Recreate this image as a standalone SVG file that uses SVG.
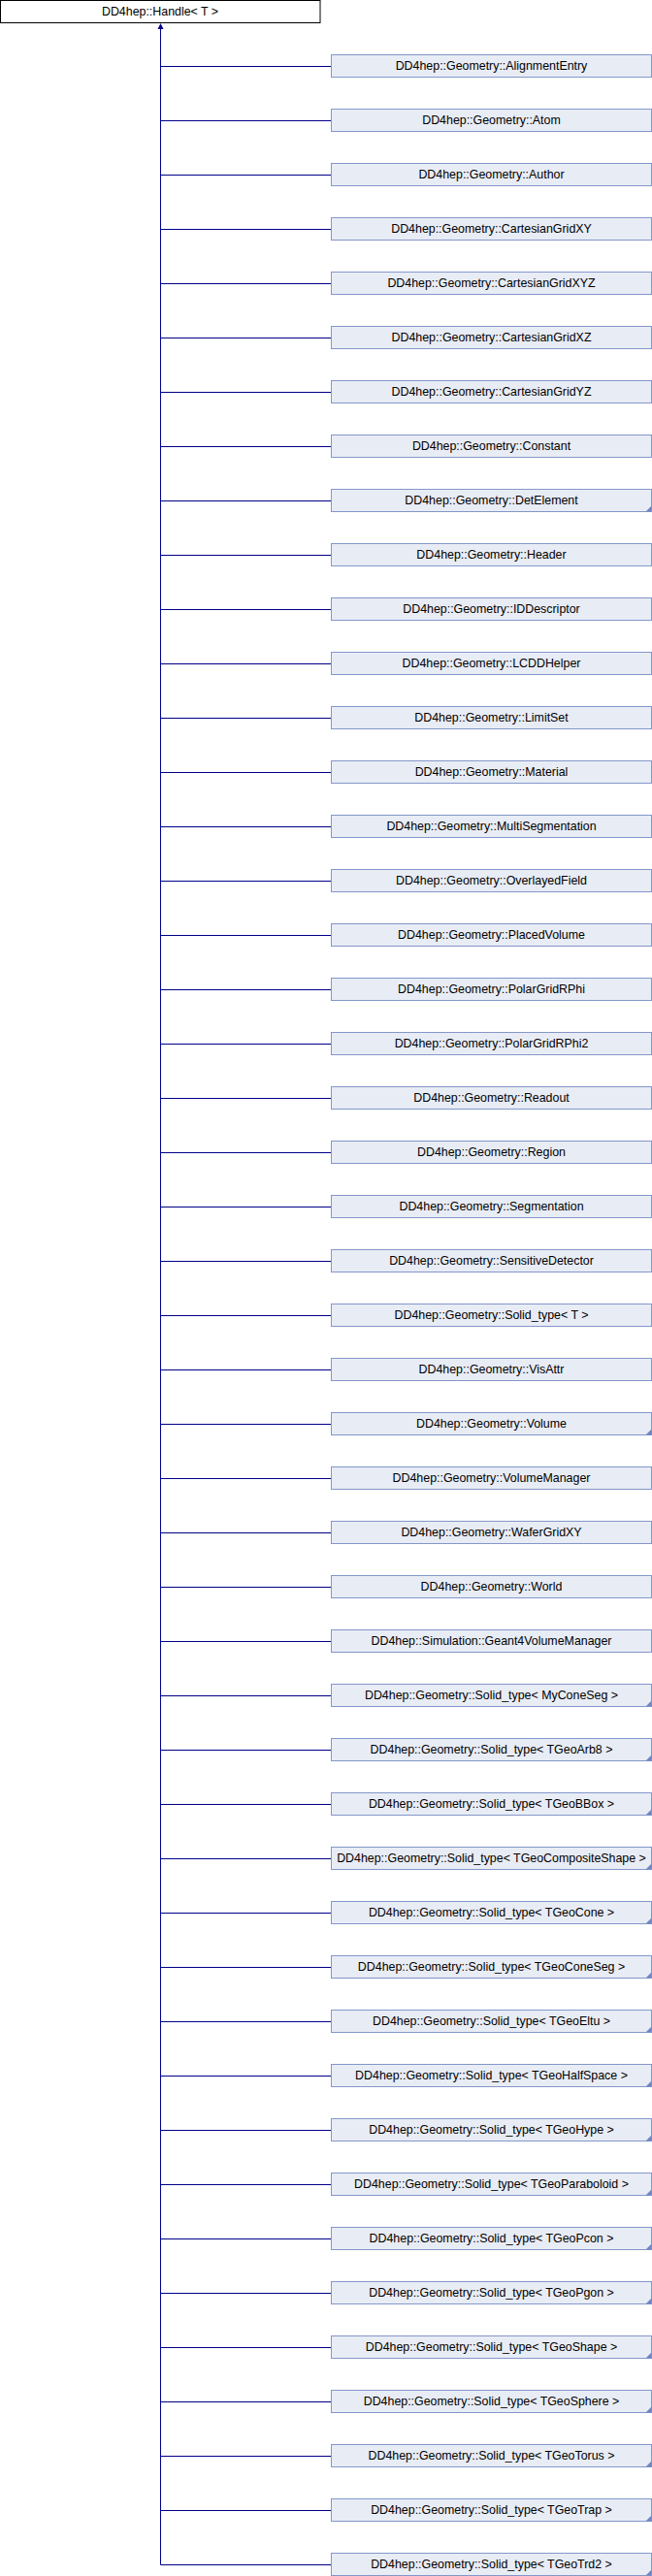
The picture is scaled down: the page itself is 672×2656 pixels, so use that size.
<svg xmlns="http://www.w3.org/2000/svg" width="672" height="2656" viewBox="0 0 672 2656">
<style>
text{font-family:"Liberation Sans",Arial,sans-serif;font-size:12.4px;fill:#000;text-anchor:middle}
.n rect{fill:#E8ECF5;stroke:#8497CA;stroke-width:1}
.top rect{fill:#FFFFFF;stroke:#000000;stroke-width:1}
.c{fill:#6F86C4}
#connectors line{stroke:#000088;stroke-width:1}
</style>
<rect width="672" height="2656" fill="#FFFFFF"/>
<g id="connectors">
<line x1="165.5" y1="29" x2="165.5" y2="2644.5"/>
<polygon points="165.5,24 162.5,30 168.5,30" fill="#000088"/>
<line x1="165.5" y1="68.5" x2="341" y2="68.5"/>
<line x1="165.5" y1="124.5" x2="341" y2="124.5"/>
<line x1="165.5" y1="180.5" x2="341" y2="180.5"/>
<line x1="165.5" y1="236.5" x2="341" y2="236.5"/>
<line x1="165.5" y1="292.5" x2="341" y2="292.5"/>
<line x1="165.5" y1="348.5" x2="341" y2="348.5"/>
<line x1="165.5" y1="404.5" x2="341" y2="404.5"/>
<line x1="165.5" y1="460.5" x2="341" y2="460.5"/>
<line x1="165.5" y1="516.5" x2="341" y2="516.5"/>
<line x1="165.5" y1="572.5" x2="341" y2="572.5"/>
<line x1="165.5" y1="628.5" x2="341" y2="628.5"/>
<line x1="165.5" y1="684.5" x2="341" y2="684.5"/>
<line x1="165.5" y1="740.5" x2="341" y2="740.5"/>
<line x1="165.5" y1="796.5" x2="341" y2="796.5"/>
<line x1="165.5" y1="852.5" x2="341" y2="852.5"/>
<line x1="165.5" y1="908.5" x2="341" y2="908.5"/>
<line x1="165.5" y1="964.5" x2="341" y2="964.5"/>
<line x1="165.5" y1="1020.5" x2="341" y2="1020.5"/>
<line x1="165.5" y1="1076.5" x2="341" y2="1076.5"/>
<line x1="165.5" y1="1132.5" x2="341" y2="1132.5"/>
<line x1="165.5" y1="1188.5" x2="341" y2="1188.5"/>
<line x1="165.5" y1="1244.5" x2="341" y2="1244.5"/>
<line x1="165.5" y1="1300.5" x2="341" y2="1300.5"/>
<line x1="165.5" y1="1356.5" x2="341" y2="1356.5"/>
<line x1="165.5" y1="1412.5" x2="341" y2="1412.5"/>
<line x1="165.5" y1="1468.5" x2="341" y2="1468.5"/>
<line x1="165.5" y1="1524.5" x2="341" y2="1524.5"/>
<line x1="165.5" y1="1580.5" x2="341" y2="1580.5"/>
<line x1="165.5" y1="1636.5" x2="341" y2="1636.5"/>
<line x1="165.5" y1="1692.5" x2="341" y2="1692.5"/>
<line x1="165.5" y1="1748.5" x2="341" y2="1748.5"/>
<line x1="165.5" y1="1804.5" x2="341" y2="1804.5"/>
<line x1="165.5" y1="1860.5" x2="341" y2="1860.5"/>
<line x1="165.5" y1="1916.5" x2="341" y2="1916.5"/>
<line x1="165.5" y1="1972.5" x2="341" y2="1972.5"/>
<line x1="165.5" y1="2028.5" x2="341" y2="2028.5"/>
<line x1="165.5" y1="2084.5" x2="341" y2="2084.5"/>
<line x1="165.5" y1="2140.5" x2="341" y2="2140.5"/>
<line x1="165.5" y1="2196.5" x2="341" y2="2196.5"/>
<line x1="165.5" y1="2252.5" x2="341" y2="2252.5"/>
<line x1="165.5" y1="2308.5" x2="341" y2="2308.5"/>
<line x1="165.5" y1="2364.5" x2="341" y2="2364.5"/>
<line x1="165.5" y1="2420.5" x2="341" y2="2420.5"/>
<line x1="165.5" y1="2476.5" x2="341" y2="2476.5"/>
<line x1="165.5" y1="2532.5" x2="341" y2="2532.5"/>
<line x1="165.5" y1="2588.5" x2="341" y2="2588.5"/>
<line x1="165.5" y1="2644.5" x2="341" y2="2644.5"/>
</g>
<g id="handle" class="top"><rect x="0.5" y="0.5" width="329.5" height="23"/><text x="165" y="16">DD4hep::Handle&lt; T &gt;</text></g>
<g id="n0" class="n"><rect x="341.5" y="56.5" width="330" height="23"/><text x="506.5" y="72">DD4hep::Geometry::AlignmentEntry</text></g>
<g id="n1" class="n"><rect x="341.5" y="112.5" width="330" height="23"/><text x="506.5" y="128">DD4hep::Geometry::Atom</text></g>
<g id="n2" class="n"><rect x="341.5" y="168.5" width="330" height="23"/><text x="506.5" y="184">DD4hep::Geometry::Author</text></g>
<g id="n3" class="n"><rect x="341.5" y="224.5" width="330" height="23"/><text x="506.5" y="240">DD4hep::Geometry::CartesianGridXY</text></g>
<g id="n4" class="n"><rect x="341.5" y="280.5" width="330" height="23"/><text x="506.5" y="296">DD4hep::Geometry::CartesianGridXYZ</text></g>
<g id="n5" class="n"><rect x="341.5" y="336.5" width="330" height="23"/><text x="506.5" y="352">DD4hep::Geometry::CartesianGridXZ</text></g>
<g id="n6" class="n"><rect x="341.5" y="392.5" width="330" height="23"/><text x="506.5" y="408">DD4hep::Geometry::CartesianGridYZ</text></g>
<g id="n7" class="n"><rect x="341.5" y="448.5" width="330" height="23"/><text x="506.5" y="464">DD4hep::Geometry::Constant</text></g>
<g id="n8" class="n"><rect x="341.5" y="504.5" width="330" height="23"/><text x="506.5" y="520">DD4hep::Geometry::DetElement</text><polygon class="c" points="671.5,521.5 671.5,527.5 665.5,527.5"/></g>
<g id="n9" class="n"><rect x="341.5" y="560.5" width="330" height="23"/><text x="506.5" y="576">DD4hep::Geometry::Header</text></g>
<g id="n10" class="n"><rect x="341.5" y="616.5" width="330" height="23"/><text x="506.5" y="632">DD4hep::Geometry::IDDescriptor</text></g>
<g id="n11" class="n"><rect x="341.5" y="672.5" width="330" height="23"/><text x="506.5" y="688">DD4hep::Geometry::LCDDHelper</text></g>
<g id="n12" class="n"><rect x="341.5" y="728.5" width="330" height="23"/><text x="506.5" y="744">DD4hep::Geometry::LimitSet</text></g>
<g id="n13" class="n"><rect x="341.5" y="784.5" width="330" height="23"/><text x="506.5" y="800">DD4hep::Geometry::Material</text></g>
<g id="n14" class="n"><rect x="341.5" y="840.5" width="330" height="23"/><text x="506.5" y="856">DD4hep::Geometry::MultiSegmentation</text></g>
<g id="n15" class="n"><rect x="341.5" y="896.5" width="330" height="23"/><text x="506.5" y="912">DD4hep::Geometry::OverlayedField</text></g>
<g id="n16" class="n"><rect x="341.5" y="952.5" width="330" height="23"/><text x="506.5" y="968">DD4hep::Geometry::PlacedVolume</text></g>
<g id="n17" class="n"><rect x="341.5" y="1008.5" width="330" height="23"/><text x="506.5" y="1024">DD4hep::Geometry::PolarGridRPhi</text></g>
<g id="n18" class="n"><rect x="341.5" y="1064.5" width="330" height="23"/><text x="506.5" y="1080">DD4hep::Geometry::PolarGridRPhi2</text></g>
<g id="n19" class="n"><rect x="341.5" y="1120.5" width="330" height="23"/><text x="506.5" y="1136">DD4hep::Geometry::Readout</text></g>
<g id="n20" class="n"><rect x="341.5" y="1176.5" width="330" height="23"/><text x="506.5" y="1192">DD4hep::Geometry::Region</text></g>
<g id="n21" class="n"><rect x="341.5" y="1232.5" width="330" height="23"/><text x="506.5" y="1248">DD4hep::Geometry::Segmentation</text></g>
<g id="n22" class="n"><rect x="341.5" y="1288.5" width="330" height="23"/><text x="506.5" y="1304">DD4hep::Geometry::SensitiveDetector</text></g>
<g id="n23" class="n"><rect x="341.5" y="1344.5" width="330" height="23"/><text x="506.5" y="1360">DD4hep::Geometry::Solid_type&lt; T &gt;</text></g>
<g id="n24" class="n"><rect x="341.5" y="1400.5" width="330" height="23"/><text x="506.5" y="1416">DD4hep::Geometry::VisAttr</text></g>
<g id="n25" class="n"><rect x="341.5" y="1456.5" width="330" height="23"/><text x="506.5" y="1472">DD4hep::Geometry::Volume</text><polygon class="c" points="671.5,1473.5 671.5,1479.5 665.5,1479.5"/></g>
<g id="n26" class="n"><rect x="341.5" y="1512.5" width="330" height="23"/><text x="506.5" y="1528">DD4hep::Geometry::VolumeManager</text></g>
<g id="n27" class="n"><rect x="341.5" y="1568.5" width="330" height="23"/><text x="506.5" y="1584">DD4hep::Geometry::WaferGridXY</text></g>
<g id="n28" class="n"><rect x="341.5" y="1624.5" width="330" height="23"/><text x="506.5" y="1640">DD4hep::Geometry::World</text></g>
<g id="n29" class="n"><rect x="341.5" y="1680.5" width="330" height="23"/><text x="506.5" y="1696">DD4hep::Simulation::Geant4VolumeManager</text></g>
<g id="n30" class="n"><rect x="341.5" y="1736.5" width="330" height="23"/><text x="506.5" y="1752">DD4hep::Geometry::Solid_type&lt; MyConeSeg &gt;</text><polygon class="c" points="671.5,1753.5 671.5,1759.5 665.5,1759.5"/></g>
<g id="n31" class="n"><rect x="341.5" y="1792.5" width="330" height="23"/><text x="506.5" y="1808">DD4hep::Geometry::Solid_type&lt; TGeoArb8 &gt;</text><polygon class="c" points="671.5,1809.5 671.5,1815.5 665.5,1815.5"/></g>
<g id="n32" class="n"><rect x="341.5" y="1848.5" width="330" height="23"/><text x="506.5" y="1864">DD4hep::Geometry::Solid_type&lt; TGeoBBox &gt;</text><polygon class="c" points="671.5,1865.5 671.5,1871.5 665.5,1871.5"/></g>
<g id="n33" class="n"><rect x="341.5" y="1904.5" width="330" height="23"/><text x="506.5" y="1920">DD4hep::Geometry::Solid_type&lt; TGeoCompositeShape &gt;</text><polygon class="c" points="671.5,1921.5 671.5,1927.5 665.5,1927.5"/></g>
<g id="n34" class="n"><rect x="341.5" y="1960.5" width="330" height="23"/><text x="506.5" y="1976">DD4hep::Geometry::Solid_type&lt; TGeoCone &gt;</text><polygon class="c" points="671.5,1977.5 671.5,1983.5 665.5,1983.5"/></g>
<g id="n35" class="n"><rect x="341.5" y="2016.5" width="330" height="23"/><text x="506.5" y="2032">DD4hep::Geometry::Solid_type&lt; TGeoConeSeg &gt;</text><polygon class="c" points="671.5,2033.5 671.5,2039.5 665.5,2039.5"/></g>
<g id="n36" class="n"><rect x="341.5" y="2072.5" width="330" height="23"/><text x="506.5" y="2088">DD4hep::Geometry::Solid_type&lt; TGeoEltu &gt;</text><polygon class="c" points="671.5,2089.5 671.5,2095.5 665.5,2095.5"/></g>
<g id="n37" class="n"><rect x="341.5" y="2128.5" width="330" height="23"/><text x="506.5" y="2144">DD4hep::Geometry::Solid_type&lt; TGeoHalfSpace &gt;</text><polygon class="c" points="671.5,2145.5 671.5,2151.5 665.5,2151.5"/></g>
<g id="n38" class="n"><rect x="341.5" y="2184.5" width="330" height="23"/><text x="506.5" y="2200">DD4hep::Geometry::Solid_type&lt; TGeoHype &gt;</text><polygon class="c" points="671.5,2201.5 671.5,2207.5 665.5,2207.5"/></g>
<g id="n39" class="n"><rect x="341.5" y="2240.5" width="330" height="23"/><text x="506.5" y="2256">DD4hep::Geometry::Solid_type&lt; TGeoParaboloid &gt;</text><polygon class="c" points="671.5,2257.5 671.5,2263.5 665.5,2263.5"/></g>
<g id="n40" class="n"><rect x="341.5" y="2296.5" width="330" height="23"/><text x="506.5" y="2312">DD4hep::Geometry::Solid_type&lt; TGeoPcon &gt;</text><polygon class="c" points="671.5,2313.5 671.5,2319.5 665.5,2319.5"/></g>
<g id="n41" class="n"><rect x="341.5" y="2352.5" width="330" height="23"/><text x="506.5" y="2368">DD4hep::Geometry::Solid_type&lt; TGeoPgon &gt;</text><polygon class="c" points="671.5,2369.5 671.5,2375.5 665.5,2375.5"/></g>
<g id="n42" class="n"><rect x="341.5" y="2408.5" width="330" height="23"/><text x="506.5" y="2424">DD4hep::Geometry::Solid_type&lt; TGeoShape &gt;</text><polygon class="c" points="671.5,2425.5 671.5,2431.5 665.5,2431.5"/></g>
<g id="n43" class="n"><rect x="341.5" y="2464.5" width="330" height="23"/><text x="506.5" y="2480">DD4hep::Geometry::Solid_type&lt; TGeoSphere &gt;</text><polygon class="c" points="671.5,2481.5 671.5,2487.5 665.5,2487.5"/></g>
<g id="n44" class="n"><rect x="341.5" y="2520.5" width="330" height="23"/><text x="506.5" y="2536">DD4hep::Geometry::Solid_type&lt; TGeoTorus &gt;</text><polygon class="c" points="671.5,2537.5 671.5,2543.5 665.5,2543.5"/></g>
<g id="n45" class="n"><rect x="341.5" y="2576.5" width="330" height="23"/><text x="506.5" y="2592">DD4hep::Geometry::Solid_type&lt; TGeoTrap &gt;</text><polygon class="c" points="671.5,2593.5 671.5,2599.5 665.5,2599.5"/></g>
<g id="n46" class="n"><rect x="341.5" y="2632.5" width="330" height="23"/><text x="506.5" y="2648">DD4hep::Geometry::Solid_type&lt; TGeoTrd2 &gt;</text><polygon class="c" points="671.5,2649.5 671.5,2655.5 665.5,2655.5"/></g>
</svg>
